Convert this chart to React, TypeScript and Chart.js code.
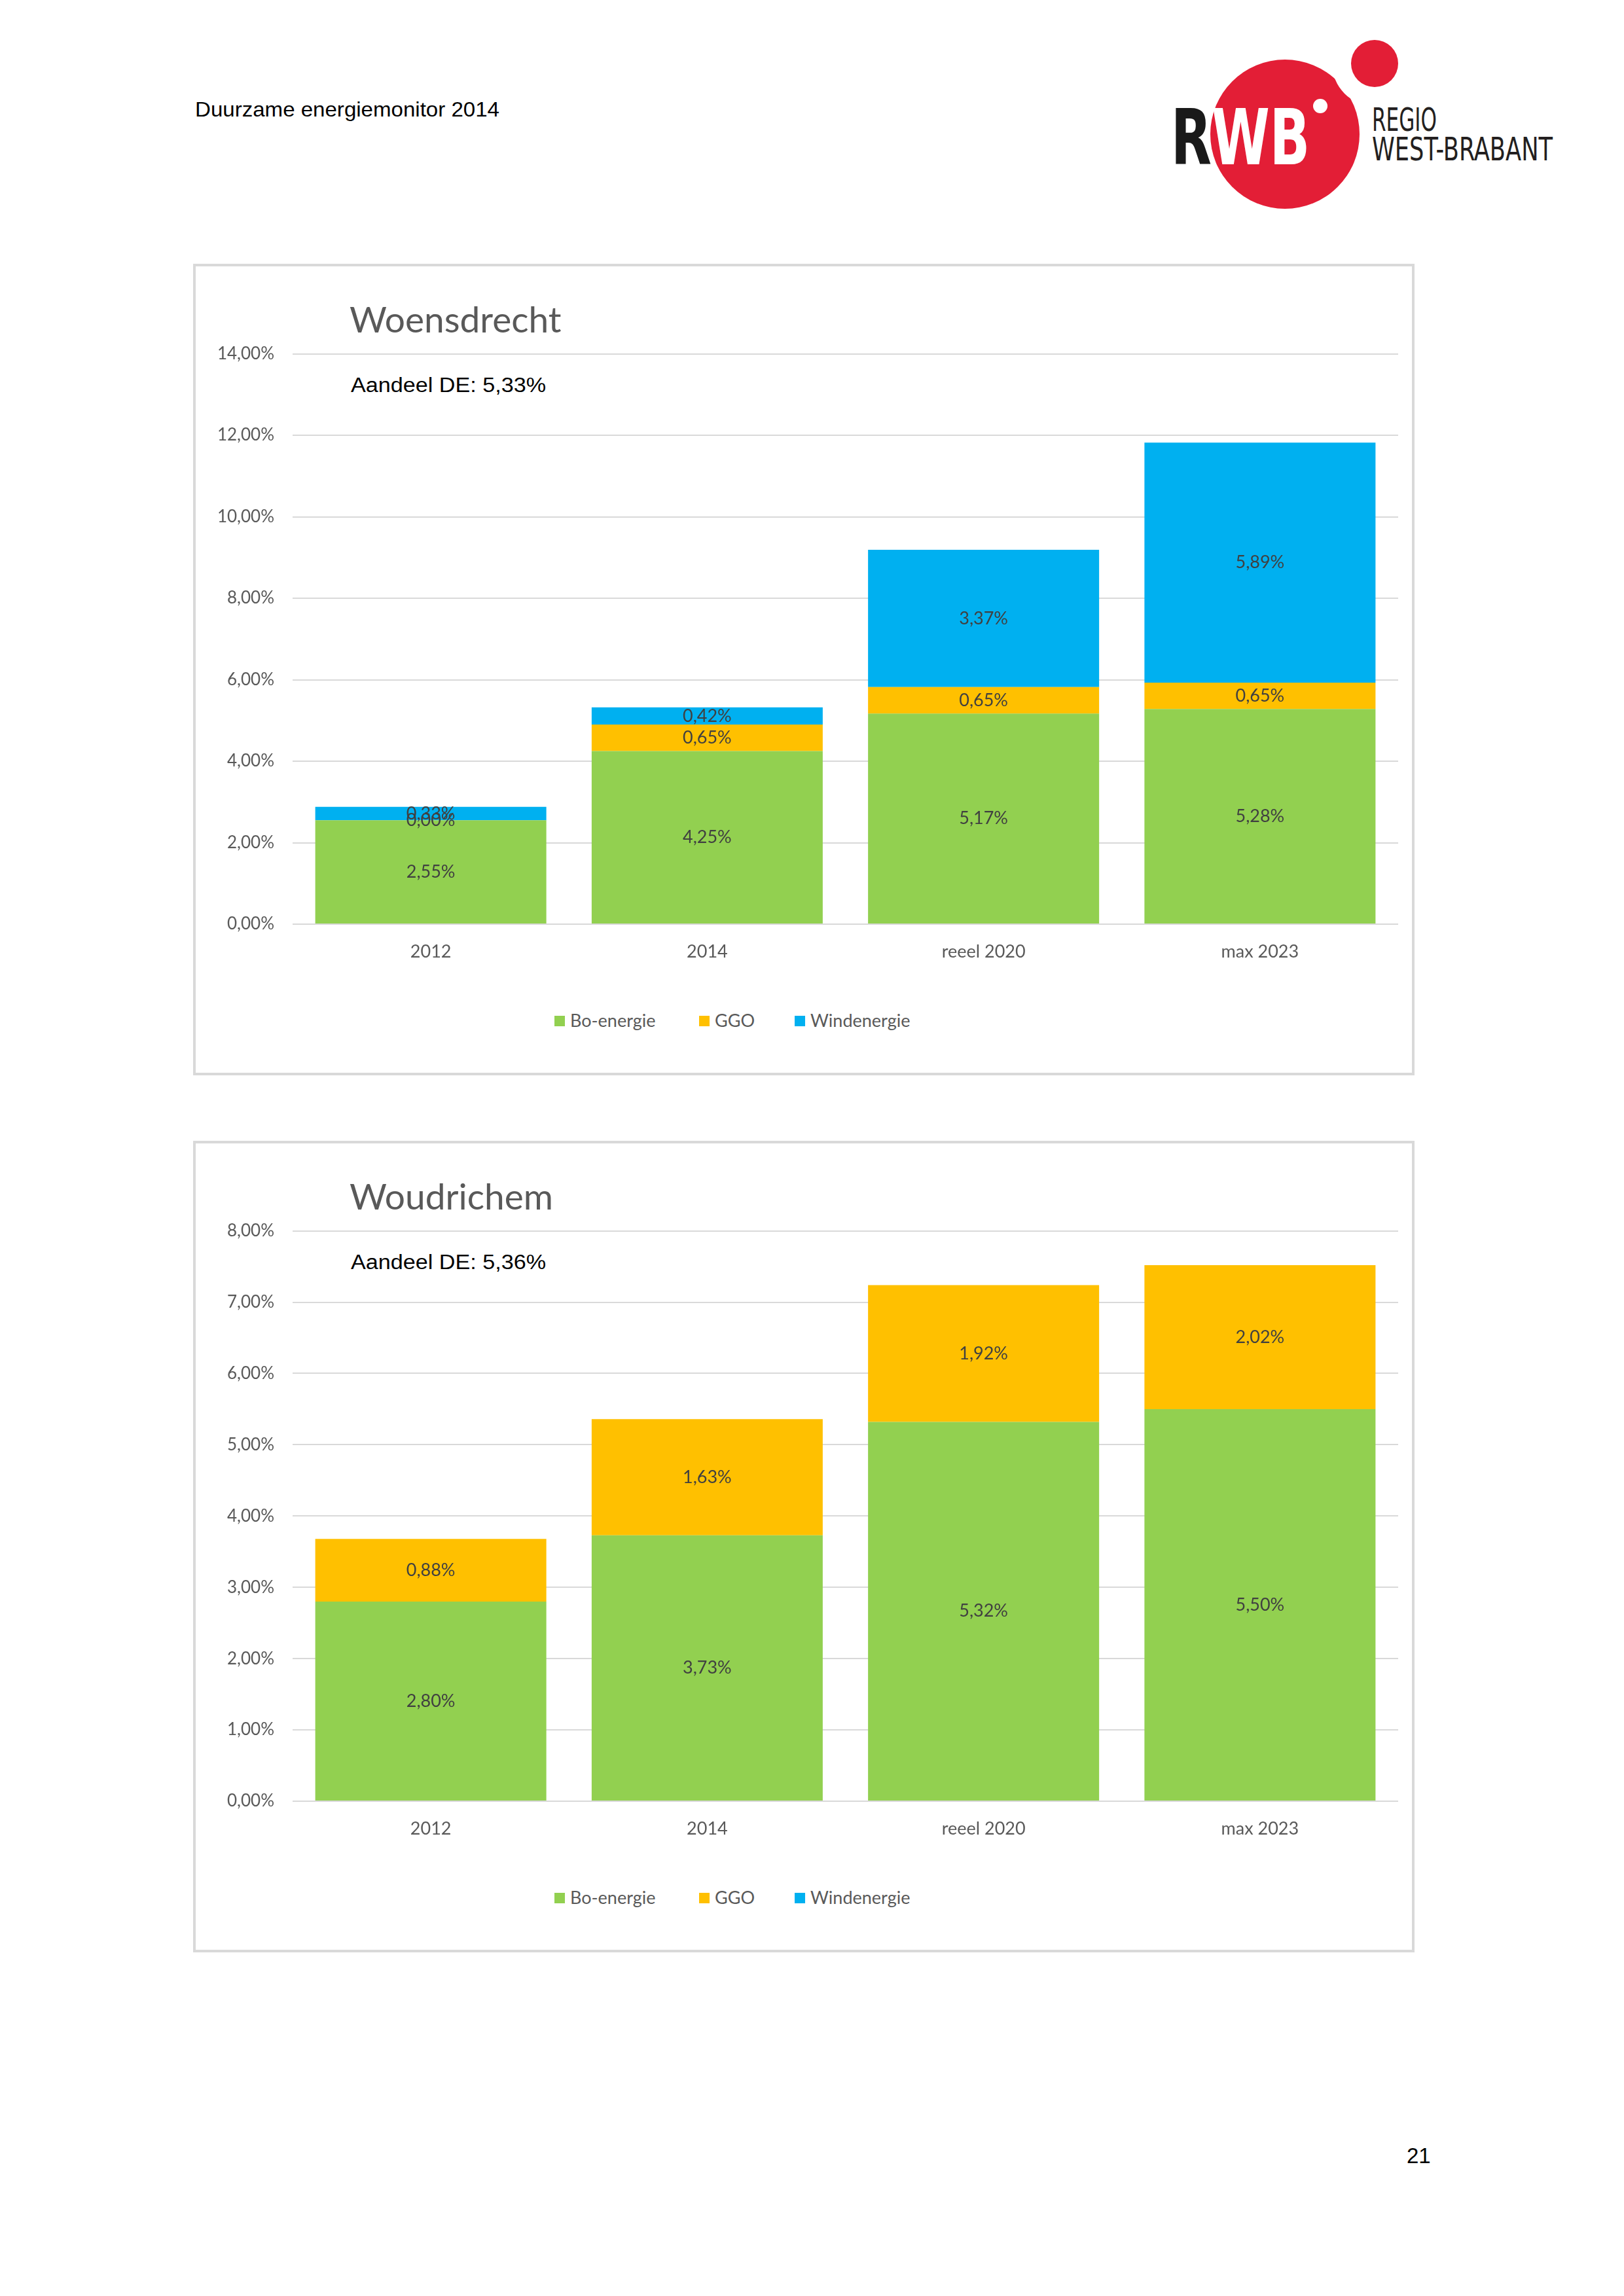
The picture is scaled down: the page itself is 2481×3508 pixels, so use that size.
import React, { useEffect, useRef } from "react";
import { Chart, registerables } from "chart.js";

Chart.register(...registerables);

// ---------- data ----------
const categories = ["2012", "2014", "reeel 2020", "max 2023"];
const seriesNames = ["Bo-energie", "GGO", "Windenergie"];
const seriesColors = ["#92D050", "#FFC000", "#00B0F0"];

const woensdrechtBo = [2.55, 4.25, 5.17, 5.28];
const woensdrechtGGO = [0.0, 0.65, 0.65, 0.65];
const woensdrechtWind = [0.33, 0.42, 3.37, 5.89];
const woensdrechtTicks = [0, 2, 4, 6, 8, 10, 12, 14];

const woudrichemBo = [2.8, 3.73, 5.32, 5.5];
const woudrichemGGO = [0.88, 1.63, 1.92, 2.02];
const woudrichemWind: (number | null)[] = [null, null, null, null];
const woudrichemTicks = [0, 1, 2, 3, 4, 5, 6, 7, 8];

const headerText = "Duurzame energiemonitor 2014";
const pageNumber = "21";
const chartTitles = ["Woensdrecht", "Woudrichem"];
const chartSubtitles = ["Aandeel DE: 5,33%", "Aandeel DE: 5,36%"];

// ---------- helpers ----------
const fmt = (v: number) => v.toFixed(2).replace(".", ",") + "%";
const GRAY = "#595959";
const LABEL = "#404040";
const FONT = "Lato, 'Open Sans', sans-serif";
const NARROW = "'Liberation Sans Narrow', 'DejaVu Sans Condensed', 'Liberation Sans', sans-serif";

const valueLabels = {
  id: "valueLabels",
  afterDatasetsDraw(chart: any) {
    const ctx = chart.ctx;
    ctx.save();
    ctx.font = `27px ${FONT}`;
    ctx.fillStyle = LABEL;
    ctx.textAlign = "center";
    ctx.textBaseline = "middle";
    chart.data.datasets.forEach((ds: any, i: number) => {
      const meta = chart.getDatasetMeta(i);
      if (meta.hidden) return;
      meta.data.forEach((el: any, j: number) => {
        const v = ds.data[j];
        if (v === null || v === undefined) return;
        const p = el.getProps(["x", "y", "base"], true);
        ctx.fillText(fmt(v), p.x, (p.y + p.base) / 2);
      });
    });
    ctx.restore();
  },
};

const CANVAS_LEFT = 300;
const CANVAS_W = 1855;
const CANVAS_H = 996;

function StackedChart(props: {
  top: number;
  bo: (number | null)[];
  ggo: (number | null)[];
  wind: (number | null)[];
  yTicks: number[];
}) {
  const ref = useRef<HTMLCanvasElement>(null);
  useEffect(() => {
    const series = [props.bo, props.ggo, props.wind];
    const chart = new Chart(ref.current as HTMLCanvasElement, {
      type: "bar",
      data: {
        labels: categories,
        datasets: series.map((d, i) => ({
          label: seriesNames[i],
          data: d,
          backgroundColor: seriesColors[i],
          borderWidth: 0,
          categoryPercentage: 1,
          barPercentage: 0.836,
        })),
      },
      options: {
        responsive: false,
        animation: false,
        devicePixelRatio: 1,
        layout: { padding: { top: 20, right: 19, left: 0, bottom: 0 } },
        plugins: {
          legend: { display: false },
          tooltip: { enabled: false },
          title: { display: false },
        },
        scales: {
          x: {
            stacked: true,
            grid: { display: false, drawTicks: false },
            border: { display: false },
            ticks: {
              padding: 26,
              color: GRAY,
              font: { family: FONT, size: 27 },
              maxRotation: 0,
              autoSkip: false,
            },
            afterFit: (s: any) => {
              s.height = 81;
            },
          },
          y: {
            stacked: true,
            min: props.yTicks[0],
            max: props.yTicks[props.yTicks.length - 1],
            grid: { color: "#D9D9D9", lineWidth: 2, drawTicks: false },
            border: { display: false },
            ticks: {
              stepSize: props.yTicks[1] - props.yTicks[0],
              padding: 28,
              color: GRAY,
              font: { family: FONT, size: 26 },
              callback: (v: any) => fmt(Number(v)),
            },
            afterFit: (s: any) => {
              s.width = 147;
            },
          },
        },
      } as any,
      plugins: [valueLabels],
    });
    return () => chart.destroy();
  }, []);
  return (
    <canvas
      ref={ref}
      width={CANVAS_W}
      height={CANVAS_H}
      style={{
        position: "absolute",
        left: CANVAS_LEFT,
        top: props.top,
        width: CANVAS_W,
        height: CANVAS_H,
      }}
    />
  );
}

function ChartDecor({ dy, idx }: { dy: number; idx: number }) {
  const legendX = [847, 1068, 1214];
  return (
    <g>
      <rect
        x={297}
        y={405 + dy}
        width={1862}
        height={1236}
        fill="#FFFFFF"
        stroke="#D9D9D9"
        strokeWidth={4}
      />
      <text
        x={534}
        y={508 + dy}
        fontFamily={FONT}
        fontWeight={400}
        fontSize={55}
        fill={GRAY}
      >
        {chartTitles[idx]}
      </text>
      <text
        x={536}
        y={599 + dy}
        fontFamily="'Liberation Sans', Arial, sans-serif"
        fontSize={31}
        textLength={298}
        lengthAdjust="spacingAndGlyphs"
        fill="#000000"
      >
        {chartSubtitles[idx]}
      </text>
      {seriesNames.map((n, i) => (
        <g key={n}>
          <rect x={legendX[i]} y={1552 + dy} width={16} height={16} fill={seriesColors[i]} />
          <text
            x={legendX[i] + 24}
            y={1569 + dy}
            fontFamily={FONT}
            fontSize={27}
            fill={GRAY}
          >
            {n}
          </text>
        </g>
      ))}
    </g>
  );
}

export default function App() {
  useEffect(() => {
    document.body.style.background = "#FFFFFF";
  }, []);
  return (
    <div style={{ position: "absolute", left: 0, top: 0, width: 2481, height: 3508, background: "#FFFFFF" }}>
      <svg
        width={2481}
        height={3508}
        style={{ position: "absolute", left: 0, top: 0 }}
      >
        <text
          x={298}
          y={178}
          fontFamily="'Liberation Sans', Arial, sans-serif"
          fontSize={32}
          textLength={465}
          lengthAdjust="spacingAndGlyphs"
          fill="#000000"
        >
          {headerText}
        </text>
        <text
          x={2149}
          y={3305}
          fontFamily="'Liberation Sans', Arial, sans-serif"
          fontSize={33}
          fill="#000000"
        >
          {pageNumber}
        </text>
        {/* logo */}
        <g>
          <circle cx={1963} cy={205} r={114} fill="#E31E36" />
          <circle cx={2100} cy={97} r={65} fill="#FFFFFF" />
          <circle cx={2100} cy={97} r={36} fill="#E31E36" />
          <circle cx={2017} cy={162} r={11} fill="#FFFFFF" />
          <text
            x={1789}
            y={251}
            fontFamily={NARROW}
            fontWeight={700}
            fontSize={118}
            textLength={212}
            lengthAdjust="spacingAndGlyphs"
          >
            <tspan fill="#1A1A1A">R</tspan>
            <tspan fill="#FFFFFF">WB</tspan>
          </text>
          <text
            x={2096}
            y={200}
            fontFamily={NARROW}
            fontSize={49}
            textLength={99}
            lengthAdjust="spacingAndGlyphs"
            fill="#231F20"
          >
            REGIO
          </text>
          <text
            x={2096}
            y={245}
            fontFamily={NARROW}
            fontSize={49}
            textLength={276}
            lengthAdjust="spacingAndGlyphs"
            fill="#231F20"
          >
            WEST-BRABANT
          </text>
        </g>
        <ChartDecor dy={0} idx={0} />
        <ChartDecor dy={1340} idx={1} />
      </svg>
      <StackedChart
        top={497}
        bo={woensdrechtBo}
        ggo={woensdrechtGGO}
        wind={woensdrechtWind}
        yTicks={woensdrechtTicks}
      />
      <StackedChart
        top={1837}
        bo={woudrichemBo}
        ggo={woudrichemGGO}
        wind={woudrichemWind}
        yTicks={woudrichemTicks}
      />
    </div>
  );
}
